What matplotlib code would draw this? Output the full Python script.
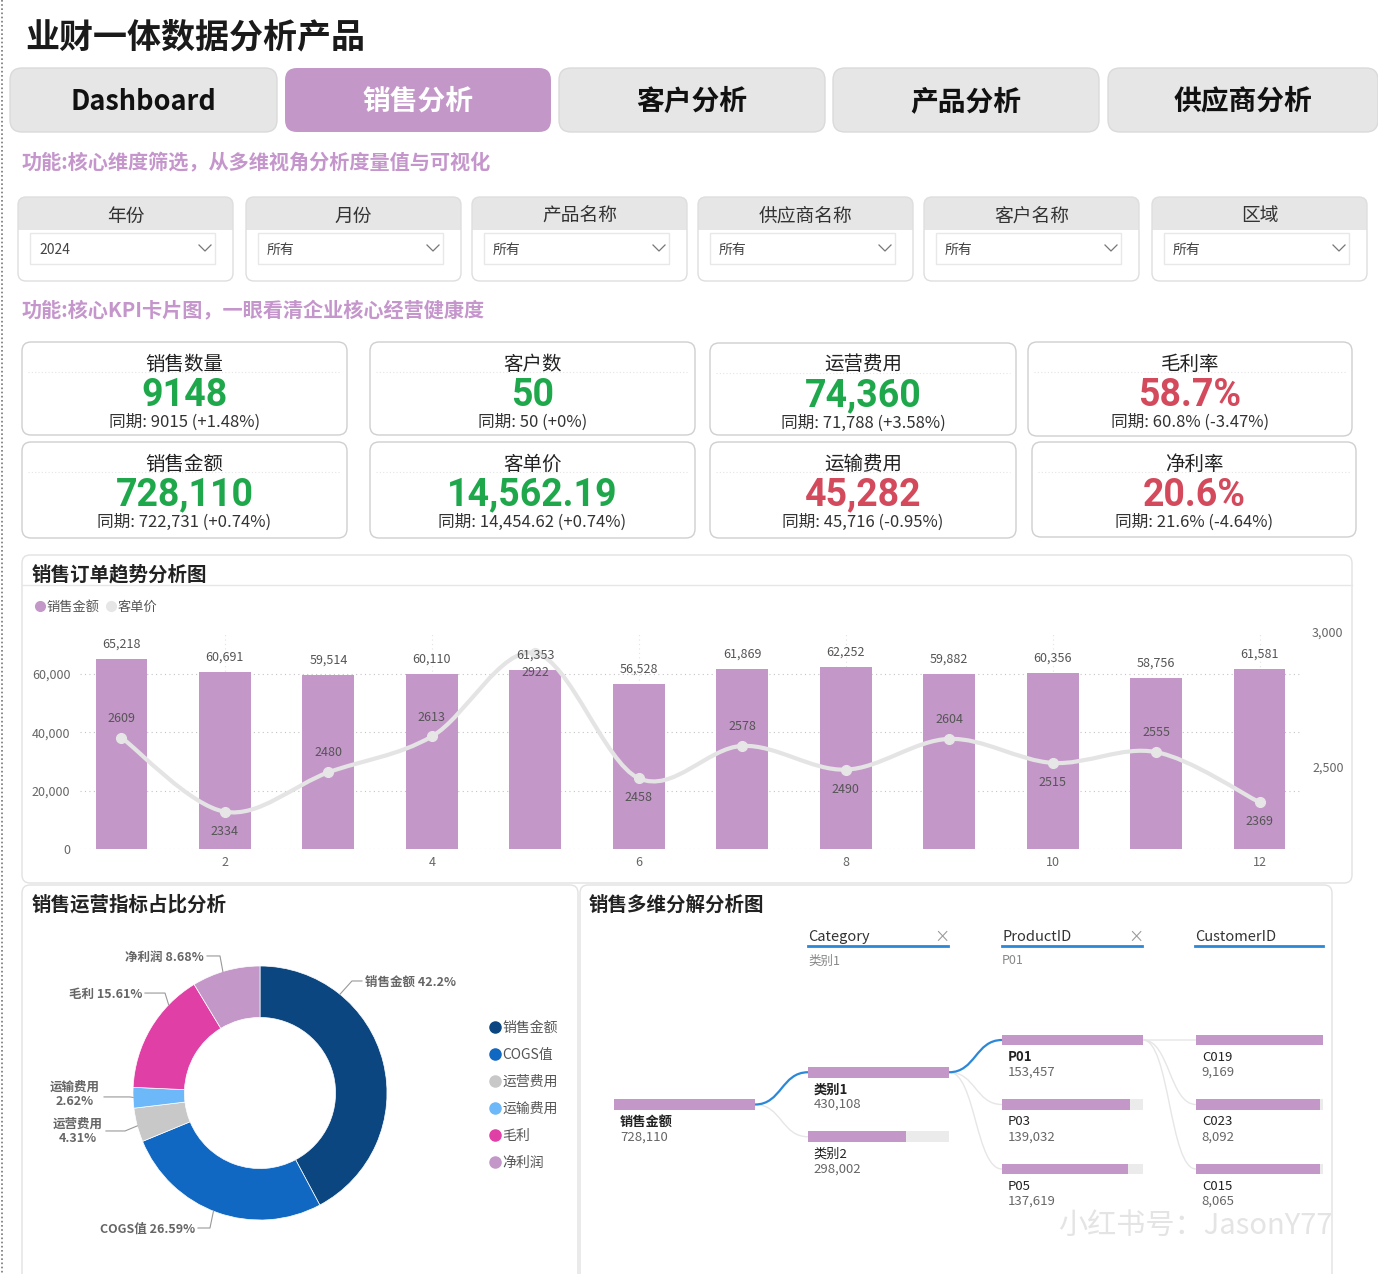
import matplotlib
matplotlib.use('Agg')
import matplotlib.pyplot as plt
from matplotlib.patches import FancyBboxPatch, Rectangle, PathPatch
from matplotlib.path import Path
from matplotlib.lines import Line2D
from matplotlib.ticker import FuncFormatter
import numpy as np

plt.rcParams['font.family'] = ['Noto Sans CJK SC', 'DejaVu Sans']

W, H = 1378, 1274
PURPLE = '#c497c9'
GREEN = '#1fa84b'
RED = '#d34a5c'

# ---- data ----
nav_tabs = ['Dashboard', '销售分析', '客户分析', '产品分析', '供应商分析']
filter_names = ['年份', '月份', '产品名称', '供应商名称', '客户名称', '区域']
filter_values = ['2024', '所有', '所有', '所有', '所有', '所有']

kpi_titles = ['销售数量', '客户数', '运营费用', '毛利率', '销售金额', '客单价', '运输费用', '净利率']
kpi_values = ['9148', '50', '74,360', '58.7%', '728,110', '14,562.19', '45,282', '20.6%']
kpi_prior = ['同期: 9015 (+1.48%)', '同期: 50 (+0%)', '同期: 71,788 (+3.58%)', '同期: 60.8% (-3.47%)',
             '同期: 722,731 (+0.74%)', '同期: 14,454.62 (+0.74%)', '同期: 45,716 (-0.95%)', '同期: 21.6% (-4.64%)']
kpi_good = [True, True, True, False, True, True, False, False]

months = list(range(1, 13))
sales = [65218, 60691, 59514, 60110, 61353, 56528, 61869, 62252, 59882, 60356, 58756, 61581]
avg_price = [2609, 2334, 2480, 2613, 2922, 2458, 2578, 2490, 2604, 2515, 2555, 2369]

share_labels = ['销售金额', 'COGS值', '运营费用', '运输费用', '毛利', '净利润']
share_pct = [42.2, 26.59, 4.31, 2.62, 15.61, 8.68]
share_colors = ['#0b4680', '#1068c2', '#c8c8c8', '#6cb8f8', '#e040a6', PURPLE]

root_name, root_val = '销售金额', 728110
cat_names = ['类别1', '类别2']
cat_vals = [430108, 298002]
prod_names = ['P01', 'P03', 'P05']
prod_vals = [153457, 139032, 137619]
cust_names = ['C019', 'C023', 'C015']
cust_vals = [9169, 8092, 8065]

# ---- canvas ----
fig = plt.figure(figsize=(W / 100, H / 100), dpi=100)
fig.patch.set_facecolor('white')
bg = fig.add_axes([0, 0, 1, 1], zorder=0)
bg.set_xlim(0, W)
bg.set_ylim(H, 0)
bg.axis('off')


def frac(x0, y0, x1, y1):
    return [x0 / W, 1 - y1 / H, (x1 - x0) / W, (y1 - y0) / H]


def rbox(x0, y0, x1, y1, fc, ec='none', r=8, lw=1, z=1):
    bg.add_patch(FancyBboxPatch((x0, y0), x1 - x0, y1 - y0,
                                boxstyle=f'round,pad=0,rounding_size={r}',
                                fc=fc, ec=ec, lw=lw, zorder=z))


def chevron(x, y, c='#777'):
    bg.plot([x - 6, x, x + 6], [y - 3, y + 3, y - 3], color=c, lw=0.9, zorder=5)


bg.plot([1.5, 1.5], [0, H], color='#777', lw=1.2, ls=(0, (1, 1.5)))

bg.text(25, 37, '业财一体数据分析产品', fontsize=24.5, fontweight='bold', va='center', color='#1a1a1a')

# nav tabs
tab_x = [(10, 277), (285, 551), (559, 825), (833, 1099), (1108, 1378)]
for i, (name, (x0, x1)) in enumerate(zip(nav_tabs, tab_x)):
    active = i == 1
    rbox(x0, 68, x1, 132, PURPLE if active else '#e6e6e6', ec='#dadada' if not active else 'none', r=12)
    bg.text((x0 + x1) / 2, 102, name, fontsize=19.5 if i == 0 else 20, fontweight='bold',
            ha='center', va='center', color='white' if active else '#111')

bg.text(22, 163, '功能:核心维度筛选，从多维视角分析度量值与可视化', fontsize=14.5,
        fontweight='bold', va='center', color='#c596cc')

# filters
filt_x = [(18, 233), (246, 461), (472, 687), (698, 913), (924, 1139), (1152, 1367)]
for name, val, (x0, x1) in zip(filter_names, filter_values, filt_x):
    rbox(x0, 197, x1, 245, '#e6e6e6', r=8, z=1)
    bg.add_patch(Rectangle((x0, 230), x1 - x0, 30, fc='white', ec='none', zorder=2))
    rbox(x0, 240, x1, 281, 'white', r=8, z=2)
    rbox(x0, 197, x1, 281, 'none', ec='#dedede', r=8, z=3)
    bg.text((x0 + x1) / 2, 216, name, fontsize=13.5, ha='center', va='center', color='#333', zorder=4)
    bg.add_patch(Rectangle((x0 + 12, 233), x1 - x0 - 30, 31, fc='white', ec='#e8e8e8', lw=1, zorder=4))
    bg.text(x0 + 21, 250, val, fontsize=10, va='center', color='#444', zorder=5)
    chevron(x1 - 28, 248)

bg.text(22, 311, '功能:核心KPI卡片图，一眼看清企业核心经营健康度', fontsize=14.5,
        fontweight='bold', va='center', color='#c596cc')

# KPI cards
kpi_boxes = [(22, 342, 347, 435), (370, 342, 695, 435), (710, 343, 1016, 435), (1028, 342, 1352, 436),
             (22, 442, 347, 538), (370, 442, 695, 538), (710, 442, 1016, 538), (1032, 442, 1356, 537)]
for t, v, p, good, (x0, y0, x1, y1) in zip(kpi_titles, kpi_values, kpi_prior, kpi_good, kpi_boxes):
    rbox(x0, y0, x1, y1, 'white', ec='#cfcfcf', r=9, z=2)
    cx = (x0 + x1) / 2
    bg.plot([x0 + 6, x1 - 6], [y0 + 30, y0 + 30], color='#e4e4e4', lw=0.8, ls=(0, (1, 2)), zorder=3)
    bg.text(cx, y0 + 22, t, fontsize=14, ha='center', va='center', color='#222', zorder=4)
    bg.text(cx, y0 + 53, v, fontsize=27, fontweight='bold', family=['Roboto', 'DejaVu Sans'],
            ha='center', va='center', color=GREEN if good else RED, zorder=4)
    bg.text(cx, y0 + 80, p, fontsize=12, ha='center', va='center', color='#333', zorder=4)

# ---- trend chart panel ----
rbox(22, 555, 1352, 883, 'white', ec='#e2e2e2', r=8, z=1)
bg.plot([22, 1352], [585, 585], color='#e6e6e6', lw=1, zorder=2)
bg.text(32, 575, '销售订单趋势分析图', fontsize=14, fontweight='bold', va='center', color='#222', zorder=3)

ax1 = fig.add_axes(frac(80, 632, 1301, 849), zorder=2)
ax1.set_facecolor('none')
bars = ax1.bar(months, sales, width=0.5, color=PURPLE, zorder=2)
ax1.set_xlim(0.6, 12.4)
ax1.set_ylim(0, 74400)
ax1.set_yticks([0, 20000, 40000, 60000])
ax1.set_xticks([2, 4, 6, 8, 10, 12])
ax1.yaxis.set_major_formatter(FuncFormatter(lambda v, p: f'{int(v):,}'))
ax1.grid(axis='y', color='#c4c4c4', lw=0.8, ls=(0, (1, 3)), zorder=0)
ax1.grid(axis='x', color='#e2e2e2', lw=0.8, ls=(0, (1, 3)), zorder=0)
for s in ax1.spines.values():
    s.set_visible(False)
ax1.tick_params(length=0, labelsize=9, colors='#666', pad=7)
ax1.tick_params(axis='x', pad=5)

ax2 = ax1.twinx()
ax2.set_ylim(2196, 3000)
ax2.set_yticks([2500, 3000])
ax2.yaxis.set_major_formatter(FuncFormatter(lambda v, p: f'{int(v):,}'))
for s in ax2.spines.values():
    s.set_visible(False)
ax2.tick_params(length=0, labelsize=9, colors='#666', pad=8)

# smooth line through the monthly points (Catmull-Rom drawn as Bezier path)
pts = np.column_stack([months, avg_price]).astype(float)
ext = np.vstack([pts[0], pts, pts[-1]])
verts = [pts[0]]
codes = [Path.MOVETO]
for i in range(1, len(ext) - 2):
    p0, p1, p2, p3 = ext[i - 1], ext[i], ext[i + 1], ext[i + 2]
    verts += [p1 + (p2 - p0) / 6, p2 - (p3 - p1) / 6, p2]
    codes += [Path.CURVE4] * 3
ax2.add_patch(PathPatch(Path(verts, codes), fc='none', ec='#e4e4e4', lw=3, zorder=3))
ax2.plot(months, avg_price, 'o', ms=7, color='#e6e6e6', zorder=4)
above = [True, False, True, True, False, False, True, False, True, False, True, False]
for m, v, up in zip(months, avg_price, above):
    ax2.annotate(str(v), (m, v), xytext=(0, 14 if up else -14), textcoords='offset points',
                 ha='center', va='center', fontsize=9, color='#555', zorder=5)
# bar value labels drawn on top of the line
for m, v in zip(months, sales):
    ax2.annotate(f'{v:,}', (m, v), xycoords=ax1.transData, xytext=(0, 6), textcoords='offset points',
                 ha='center', va='bottom', fontsize=9, color='#555', zorder=6)

fig.legend(handles=[Line2D([], [], marker='o', ls='', color=PURPLE, ms=7),
                    Line2D([], [], marker='o', ls='', color='#e6e6e6', ms=7)],
           labels=['销售金额', '客单价'], loc='center left', bbox_to_anchor=(28 / W, 1 - 607 / H),
           ncol=2, fontsize=9.5, frameon=False, handlelength=0.8, handletextpad=0.1,
           columnspacing=0.5, borderpad=0, labelcolor='#555')

# ---- donut panel ----
rbox(22, 885, 578, 1295, 'white', ec='#e2e2e2', r=8, z=1)
bg.text(32, 905, '销售运营指标占比分析', fontsize=14, fontweight='bold', va='center', color='#222', zorder=3)

axp = fig.add_axes(frac(133, 966, 387, 1220), zorder=2)
axp.pie(share_pct, radius=1, startangle=90, counterclock=False, colors=share_colors,
        wedgeprops=dict(width=0.405, edgecolor='white', linewidth=0.5))
axp.set_xlim(-1, 1)
axp.set_ylim(-1, 1)
axp.set_aspect('equal')

# label layout: edge angle, elbow point, line end x, text x, text y, ha
label_layout = [
    (51, (0.724, 0.882), 0.803, 0.827, 0.882, 'left'),
    (248.5, (-0.394, -1.063), -0.488, -0.512, -1.063, 'right'),
    (195, (-1.063, -0.299), -1.213, -1.433, -0.291, 'center'),
    (182, (-1.024, -0.031), -1.228, -1.457, 0.0, 'center'),
    (136, (-0.748, 0.787), -0.906, -0.929, 0.787, 'right'),
    (107, (-0.315, 1.079), -0.417, -0.441, 1.079, 'right'),
]
for name, pct, (ang, elbow, lx, tx, ty, ha) in zip(share_labels, share_pct, label_layout):
    a = np.deg2rad(ang)
    axp.plot([np.cos(a), elbow[0], lx], [np.sin(a), elbow[1], elbow[1]],
             color='#999', lw=0.8, clip_on=False)
    txt = f'{name} {pct:g}%' if ha != 'center' else f'{name}\n{pct:g}%'
    axp.text(tx, ty - 0.012, txt, ha=ha, va='center', fontsize=9, fontweight='bold', color='#666',
             linespacing=1.15, clip_on=False)

fig.legend(handles=[Line2D([], [], marker='o', ls='', color=c, ms=8) for c in share_colors],
           labels=share_labels, loc='upper left', bbox_to_anchor=(482 / W, 1 - 1014 / H),
           fontsize=10, frameon=False, handlelength=0.8, handletextpad=0.15,
           labelspacing=0.94, borderpad=0, labelcolor='#555')

# ---- decomposition tree panel ----
rbox(580, 885, 1332, 1295, 'white', ec='#e2e2e2', r=8, z=1)
bg.text(589, 905, '销售多维分解分析图', fontsize=14, fontweight='bold', va='center', color='#222', zorder=3)

headers = [('Category', '类别1', 808, 948, True), ('ProductID', 'P01', 1002, 1142, True),
           ('CustomerID', '', 1195, 1323, False)]
for h, sel, x0, x1, closable in headers:
    bg.text(x0, 937, h, fontsize=10.5, va='center', color='#333', zorder=3)
    bg.plot([x0, x1], [946, 946], color='#2b88d8', lw=2, zorder=3)
    if closable:
        bg.text(x1 - 6, 937, '×', fontsize=11, ha='center', va='center', color='#999', zorder=3)
    if sel:
        bg.text(x0, 961, sel, fontsize=9, va='center', color='#888', zorder=3)

axt = fig.add_axes(frac(614, 1000, 1323, 1215), zorder=2)
axt.set_facecolor('none')
axt.axis('off')
col_w = 0.727
axt.set_xlim(0, (1323 - 614) / 194)
axt.set_ylim(2.713, -0.620)
bh = 0.17

levels = [
    ([root_name], [root_val], [1.0], [True]),
    (cat_names, cat_vals, [0.5, 1.5], [True, False]),
    (prod_names, prod_vals, [0.0, 1.0, 2.0], [True, False, False]),
    (cust_names, cust_vals, [0.0, 1.0, 2.0], [False, False, False]),
]
for col, (names, vals, ys, bold) in enumerate(levels):
    vmax = max(vals)
    axt.barh(ys, [col_w] * len(ys), left=col, height=bh, color='#ebebeb', zorder=2)
    axt.barh(ys, [col_w * v / vmax for v in vals], left=col, height=bh, color=PURPLE, zorder=3)
    for n, v, y, b in zip(names, vals, ys, bold):
        axt.text(col + 0.03, y + 0.27, n, fontsize=9.5, va='center', color='#222',
                 fontweight='bold' if b else 'normal', clip_on=False)
        axt.text(col + 0.03, y + 0.50, f'{v:,}', fontsize=9.5, va='center', color='#666', clip_on=False)


def connector(x0, y0, x1, y1, color, lw):
    dx = (x1 - x0) * 0.5
    path = Path([(x0, y0), (x0 + dx, y0), (x1 - dx, y1), (x1, y1)],
                [Path.MOVETO, Path.CURVE4, Path.CURVE4, Path.CURVE4])
    axt.add_patch(PathPatch(path, fc='none', ec=color, lw=lw, zorder=1 if color != '#2b88d8' else 4))


for col in range(3):
    _, _, ys_p, sel_p = levels[col]
    _, _, ys_c, sel_c = levels[col + 1]
    yp = [y for y, s in zip(ys_p, sel_p) if s][0]
    for yc, sc in zip(ys_c, sel_c):
        blue = sc and col < 2
        connector(col + col_w, yp, col + 1, yc, '#2b88d8' if blue else '#e6e6e6', 1.6 if blue else 1.0)

bg.text(1058, 1226, '小红书号：JasonY77', fontsize=21, va='center', color='#e4e4e4', zorder=5)

fig.savefig('out.png', dpi=100, facecolor='white')
